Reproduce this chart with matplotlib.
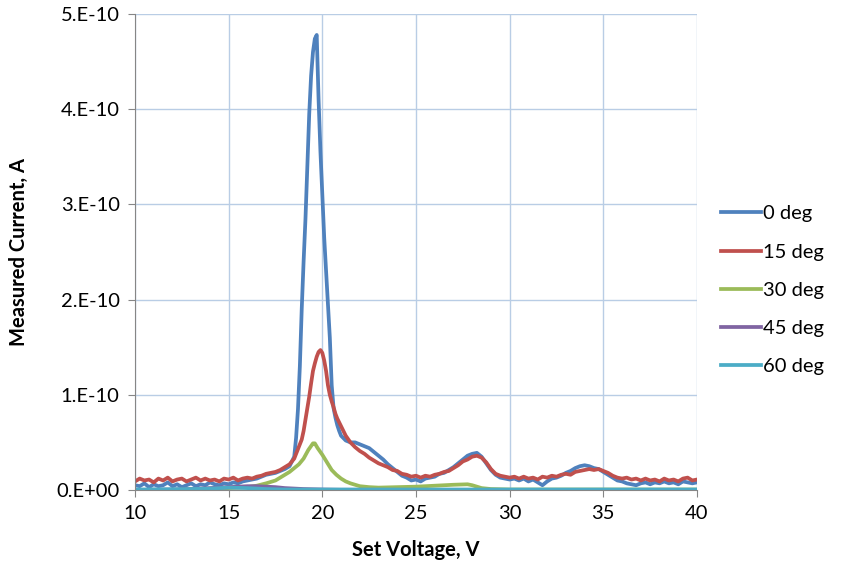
import numpy as np
import matplotlib; matplotlib.use('Agg')
import matplotlib.pyplot as plt

plt.rcParams.update({'font.family': ['Lato', 'DejaVu Sans'], 'font.size': 14.5})

# voltage grid for the 0 and 15 deg scans (finer across the main peak)
volts_a = [10.0, 10.25, 10.5, 10.75, 11.0, 11.25, 11.5, 11.75, 12.0, 12.25, 12.5, 12.75,
           13.0, 13.25, 13.5, 13.75, 14.0, 14.25, 14.5, 14.75, 15.0, 15.25, 15.5, 15.75,
           16.0, 16.25, 16.5, 16.75, 17.0, 17.25, 17.5, 17.75, 18.0, 18.25,
           18.5, 18.6, 18.7, 18.8, 18.9, 19.0, 19.1, 19.2, 19.3, 19.4, 19.5, 19.6, 19.7,
           19.8, 19.9, 20.0, 20.1, 20.2, 20.3, 20.4, 20.5, 20.6, 20.7, 20.8, 20.9, 21.0,
           21.25, 21.5, 21.75, 22.0, 22.25, 22.5, 22.75, 23.0, 23.25, 23.5, 23.75, 24.0,
           24.25, 24.5, 24.75, 25.0, 25.25, 25.5, 25.75, 26.0, 26.25, 26.5, 26.75, 27.0,
           27.25, 27.5, 27.75, 28.0, 28.25, 28.5, 28.75, 29.0, 29.25, 29.5, 29.75, 30.0,
           30.25, 30.5, 30.75, 31.0, 31.25, 31.5, 31.75, 32.0, 32.25, 32.5, 32.75, 33.0,
           33.25, 33.5, 33.75, 34.0, 34.25, 34.5, 34.75, 35.0, 35.25, 35.5, 35.75, 36.0,
           36.25, 36.5, 36.75, 37.0, 37.25, 37.5, 37.75, 38.0, 38.25, 38.5, 38.75, 39.0,
           39.25, 39.5, 39.75, 40.0]

# currents in units of 1e-10 A
i_0deg = [0.05, 0.04, 0.07, 0.03, 0.06, 0.04, 0.05, 0.08, 0.04, 0.06, 0.03, 0.05,
          0.07, 0.04, 0.06, 0.05, 0.08, 0.06, 0.05, 0.07, 0.06, 0.08, 0.07, 0.09,
          0.10, 0.11, 0.12, 0.14, 0.16, 0.17, 0.18, 0.20, 0.22, 0.25,
          0.35, 0.55, 0.85, 1.30, 1.90, 2.40, 2.85, 3.40, 3.95, 4.35, 4.60, 4.74, 4.78,
          4.10, 3.55, 3.10, 2.65, 2.30, 1.95, 1.60, 1.10, 0.86, 0.76, 0.68, 0.62, 0.57,
          0.52, 0.50, 0.50, 0.48, 0.46, 0.44, 0.40, 0.36, 0.32, 0.27, 0.23, 0.19,
          0.15, 0.13, 0.10, 0.11, 0.09, 0.12, 0.13, 0.14, 0.17, 0.18, 0.21, 0.24,
          0.28, 0.32, 0.36, 0.38, 0.39, 0.35, 0.28, 0.21, 0.16, 0.13, 0.12, 0.11,
          0.12, 0.10, 0.12, 0.09, 0.11, 0.08, 0.05, 0.09, 0.12, 0.13, 0.15, 0.18,
          0.20, 0.23, 0.25, 0.26, 0.25, 0.23, 0.22, 0.19, 0.16, 0.13, 0.10, 0.09,
          0.07, 0.06, 0.05, 0.07, 0.08, 0.06, 0.08, 0.07, 0.09, 0.07, 0.08, 0.06,
          0.09, 0.08, 0.07, 0.08]
i_15deg = [0.09, 0.12, 0.10, 0.11, 0.08, 0.12, 0.10, 0.13, 0.09, 0.11, 0.12, 0.09,
           0.11, 0.13, 0.10, 0.12, 0.10, 0.11, 0.09, 0.12, 0.11, 0.13, 0.10, 0.12,
           0.13, 0.12, 0.14, 0.15, 0.17, 0.18, 0.19, 0.21, 0.24, 0.27,
           0.33, 0.38, 0.43, 0.48, 0.53, 0.62, 0.74, 0.86, 0.98, 1.12, 1.25, 1.33, 1.40,
           1.45, 1.47, 1.44, 1.36, 1.25, 1.10, 1.00, 0.93, 0.87, 0.80, 0.75, 0.71, 0.67,
           0.57, 0.50, 0.45, 0.41, 0.38, 0.34, 0.31, 0.28, 0.26, 0.24, 0.21, 0.20,
           0.17, 0.16, 0.14, 0.15, 0.13, 0.15, 0.14, 0.16, 0.17, 0.19, 0.20, 0.23,
           0.26, 0.30, 0.32, 0.35, 0.36, 0.34, 0.29, 0.22, 0.17, 0.15, 0.14, 0.13,
           0.14, 0.12, 0.14, 0.12, 0.13, 0.11, 0.14, 0.13, 0.15, 0.14, 0.16, 0.17,
           0.16, 0.19, 0.20, 0.21, 0.22, 0.21, 0.22, 0.20, 0.18, 0.15, 0.13, 0.12,
           0.13, 0.11, 0.12, 0.10, 0.12, 0.10, 0.11, 0.09, 0.12, 0.10, 0.11, 0.09,
           0.12, 0.13, 0.10, 0.11]

volts_30 = [10, 12, 13, 14, 15, 15.5, 16, 16.5, 17, 17.5, 18, 18.25, 18.5, 18.75, 19.0,
            19.25, 19.5, 19.6, 19.75, 20.0, 20.25, 20.5, 20.75, 21.0, 21.25, 21.5, 22.0,
            22.5, 23, 24, 25, 26, 27, 27.75, 28.0, 28.25, 28.5, 29, 30, 32, 40]
i_30deg = [0.0, 0.0, 0.005, 0.01, 0.02, 0.025, 0.03, 0.045, 0.07, 0.10, 0.16, 0.19,
           0.23, 0.27, 0.33, 0.42, 0.49, 0.49, 0.44, 0.37, 0.29, 0.21, 0.16, 0.12,
           0.09, 0.07, 0.04, 0.03, 0.025, 0.03, 0.035, 0.045, 0.055, 0.06, 0.05,
           0.035, 0.02, 0.01, 0.005, 0.005, 0.005]

volts_45 = [10, 12, 13, 14, 15, 15.5, 16, 16.5, 17, 17.5, 18, 18.5, 19, 20, 21, 40]
i_45deg = [0.0, 0.005, 0.01, 0.02, 0.03, 0.035, 0.04, 0.04, 0.035, 0.03, 0.02, 0.015,
           0.01, 0.005, 0.002, 0.0]

volts_60 = [10, 13, 14, 15, 16, 17, 18, 40]
i_60deg = [0.005, 0.01, 0.015, 0.025, 0.02, 0.01, 0.005, 0.005]

labels = ['0 deg', '15 deg', '30 deg', '45 deg', '60 deg']
colors = ['#4F81BD', '#C0504D', '#9BBB59', '#8064A2', '#4BACC6']

series = [(volts_a, i_0deg), (volts_a, i_15deg), (volts_30, i_30deg),
          (volts_45, i_45deg), (volts_60, i_60deg)]

fig = plt.figure(figsize=(8.45, 5.67), dpi=100)
ax = fig.add_axes([135/845, 1-490/567, (697-135)/845, (490-14)/567])

for (v, cur), lab, c in zip(series, labels, colors):
    ax.plot(v, np.array(cur)*1e-10, color=c, lw=2.7, label=lab, solid_joinstyle='round')

ax.set_xlim(10, 40)
ax.set_ylim(0, 5e-10)
ax.set_xticks(np.arange(10, 41, 5))
ax.set_yticks(np.arange(0, 6)*1e-10)
ax.set_yticklabels(['0.E+00', '1.E-10', '2.E-10', '3.E-10', '4.E-10', '5.E-10'])
ax.grid(True, color='#b9cde5', lw=1.0)
ax.set_axisbelow(True)
for s in ['top', 'right']:
    ax.spines[s].set_visible(False)
for s in ['left', 'bottom']:
    ax.spines[s].set_color('#868686')
ax.tick_params(direction='out', length=5, color='#868686', pad=6)

ax.set_xlabel('Set Voltage, V', fontweight='bold', labelpad=13)
ax.set_ylabel('Measured Current, A', fontweight='bold', labelpad=20)

fig.legend(loc='center left', bbox_to_anchor=(0.853, 0.488), frameon=False,
           borderpad=0, borderaxespad=0, handlelength=2.0, handletextpad=0.12,
           labelspacing=1.05)

fig.savefig('out.png', dpi=100)
